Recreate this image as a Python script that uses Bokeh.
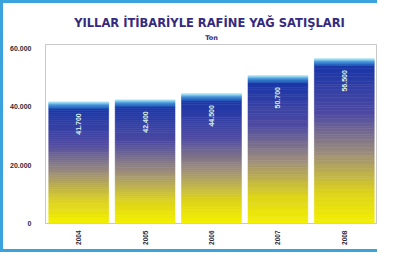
import math
from bokeh.plotting import figure
from bokeh.models import Title, FixedTicker, InlineStyleSheet
from bokeh.layouts import column
from bokeh.embed import file_html
from bokeh.resources import INLINE
from bokeh.core.properties import value

# ---- data ----
years = ["2004", "2005", "2006", "2007", "2008"]
sales = [41700, 42400, 44500, 50700, 56500]
y_ticks = [0, 20000, 40000, 60000]
y_tick_labels = ["0", "20.000", "40.000", "60.000"]
title_text = "YILLAR İTİBARİYLE  RAFİNE YAĞ SATIŞLARI"
unit_text = "Ton"


def fmt(v):
    return f"{v:,}".replace(",", ".")


def hex2rgb(h):
    h = h.lstrip("#")
    return tuple(int(h[i:i + 2], 16) for i in (0, 2, 4))


def interp(stops, t):
    for (t0, c0), (t1, c1) in zip(stops, stops[1:]):
        if t <= t1:
            f = 0 if t1 == t0 else (t - t0) / (t1 - t0)
            a, b = hex2rgb(c0), hex2rgb(c1)
            return "#%02x%02x%02x" % tuple(int(round(x + (y - x) * f)) for x, y in zip(a, b))
    return stops[-1][1]


body_stops = [(0.0, "#f4f000"), (0.2, "#dcd21c"), (0.45, "#9c8c7c"),
              (0.7, "#4e4aa2"), (1.0, "#1a36a8")]
cap_stops = [(0.0, "#1e4cb0"), (0.6, "#3c8ed8"), (1.0, "#a8e4f4")]

p = figure(x_range=years, y_range=(0, 61400), width=374, height=246,
           output_backend="svg", toolbar_location=None,
           min_border_left=42, min_border_right=0, min_border_top=41,
           min_border_bottom=26, background_fill_color="white",
           border_fill_color="white")

p.title.text = title_text
p.title.align = "center"
p.title.text_font = "DejaVu Sans"
p.title.text_font_size = "11.5px"
p.title.text_font_style = "bold"
p.title.text_color = "#352a7e"
p.title.standoff = 0
p.add_layout(Title(text=unit_text, align="center", text_font="DejaVu Sans",
                   text_font_size="6.5px", text_font_style="bold",
                   text_color="#352a7e", standoff=5), "above")

# gradient bars built from strips
N = 60
cap = 2400
xs, bots, tops, cols = [], [], [], []
for yr, v in zip(years, sales):
    body = v - cap
    for k in range(N):
        xs.append(yr)
        bots.append(body * k / N)
        tops.append(body * (k + 1) / N)
        cols.append(interp(body_stops, (k + 0.5) / N))
    M = 8
    for k in range(M):
        xs.append(yr)
        bots.append(body + cap * k / M)
        tops.append(body + cap * (k + 1) / M)
        cols.append(interp(cap_stops, (k + 0.5) / M))
p.vbar(x=xs, bottom=bots, top=tops, width=0.9, fill_color=cols,
       line_color=cols, line_width=0.6)

p.text(x=years, y=[v - cap - 1500 for v in sales], text=[fmt(v) for v in sales],
       angle=math.pi / 2, text_align="right", text_baseline="middle",
       text_font=value("Liberation Sans"), text_font_size="7px",
       text_font_style="bold", text_color="#d8f4e8")

p.xgrid.grid_line_color = None
p.ygrid.grid_line_color = None
p.outline_line_color = "#c8c8c8"

p.yaxis.ticker = FixedTicker(ticks=y_ticks)
p.yaxis.major_label_overrides = {t: l for t, l in zip(y_ticks, y_tick_labels)}
for ax in (p.xaxis, p.yaxis):
    ax.axis_line_color = None
    ax.major_tick_line_color = None
    ax.minor_tick_line_color = None
    ax.major_label_text_font = "Liberation Sans"
    ax.major_label_text_font_size = "7px"
    ax.major_label_text_font_style = "bold"
    ax.major_label_text_color = "#2a2a3a"
p.xaxis.major_label_orientation = math.pi / 2
p.xaxis.major_label_text_font_size = "6.5px"
p.xaxis.major_label_standoff = 1
p.yaxis.major_label_standoff = 8

css = InlineStyleSheet(css=":host { "
                           "border-left: 3px solid #3ba3dc !important; "
                           "border-top: 3px solid #3ba3dc !important; "
                           "border-bottom: 3px solid #3ba3dc !important; }")
boxed = column(p, stylesheets=[css])

open("out.html", "w").write(file_html(boxed, INLINE))
